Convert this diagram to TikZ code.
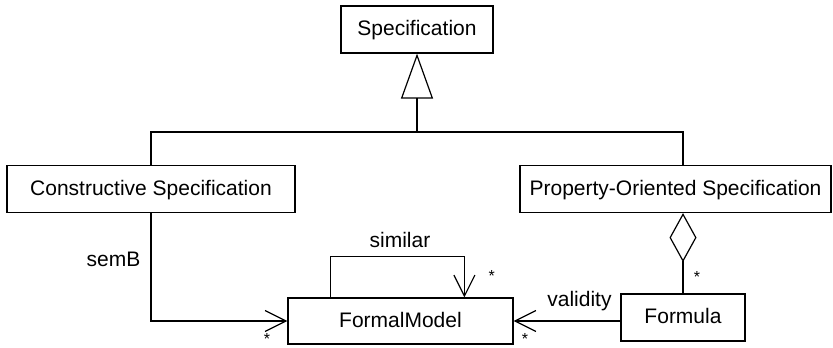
\documentclass[tikz,border=0pt]{standalone}
\usepackage{fontspec}
\setmainfont{Liberation Sans}
\usetikzlibrary{arrows.meta}
\begin{document}
\begin{tikzpicture}[x=1pt,y=-1pt,line width=1.2pt,
  cls/.style={draw,rectangle,inner sep=0pt,minimum height=47pt,
    text height=12pt,text depth=0pt,font=\fontsize{21}{25}\selectfont},
  lbl/.style={inner sep=0pt,anchor=base,font=\fontsize{21}{25}\selectfont},
  mult/.style={inner sep=0pt,anchor=base,font=\fontsize{16}{18}\selectfont},
  navig/.style={-{Straight Barb[length=21pt,width=21pt]}},
  inherit/.style={-{Triangle[open,length=45pt,width=32pt]}},
  aggr/.style={-{Diamond[open,length=49pt,width=27pt]}}]
\useasboundingbox (0,0) rectangle (833,348);

% classes
\node[cls,minimum width=152pt] (spec) at (417,29.5) {Specification};
\node[cls,minimum width=288pt] (cons) at (151,189) {Constructive Specification};
\node[cls,minimum width=311pt] (prop) at (675.5,189) {Property-Oriented Specification};
\node[cls,minimum width=225pt,minimum height=46pt] (fm) at (400.5,321) {FormalModel};
\node[cls,minimum width=124pt] (fo) at (683,317.5) {Formula};

% generalisation
\coordinate (j) at (417,132);
\draw (cons.north) |- (j) -| (prop.north -| fo.north);
\draw[inherit] (j) -- (spec.south);

% associations
\draw[navig] (cons.south) |- (fm.west);
\draw[navig] ([xshift=43pt]fm.north west) -- ++(0,-41) -| ([xshift=177pt]fm.north west);
\draw[navig] (fo.west |- fm.east) -- (fm.east);
\draw[aggr] (fo.north) -- (fo.north |- prop.south);

% role names
\node[lbl] (lsemb) at (113.5,266.7) {semB};
\node[lbl] (lsim) at (400,247) {similar};
\node[lbl] (lval) at (579.5,306) {validity};

% multiplicities (glyph raised so the box stays inside the page)
\node[mult] (m1) at (267,347.5) {\raisebox{3.2pt}{*}};
\node[mult] (m2) at (491.7,285.1) {\raisebox{3.2pt}{*}};
\node[mult] (m3) at (525,347.5) {\raisebox{3.2pt}{*}};
\node[mult] (m4) at (697,285.8) {\raisebox{3.2pt}{*}};
\end{tikzpicture}
\end{document}
